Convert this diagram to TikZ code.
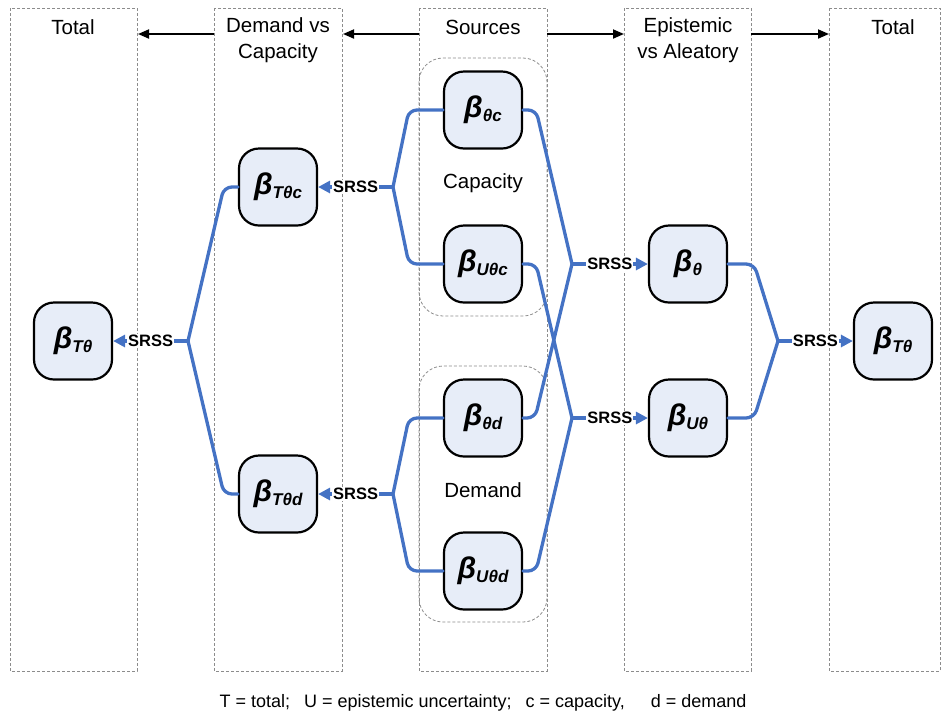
\documentclass[tikz,border=0pt]{standalone}
\usepackage{fontspec}
\setmainfont{Liberation Sans}
\usetikzlibrary{arrows.meta}
\definecolor{lineblue}{HTML}{4472C4}
\definecolor{nodefill}{HTML}{E7EDF8}
\definecolor{dashgray}{HTML}{8C8C8C}
\newcommand{\mybeta}[1]{{\fontsize{30}{30}\selectfont\bfseries\itshape β}\raisebox{-4pt}{\fontsize{17}{17}\selectfont\bfseries\itshape #1}}
\begin{document}
\begin{tikzpicture}[x=1pt,y=-1pt,
 col/.style={draw=dashgray, line width=0.8pt, dash pattern=on 3pt off 2pt},
 grp/.style={draw=dashgray, line width=0.8pt, dash pattern=on 3pt off 2pt, rounded corners=24pt},
 beta/.style={draw=black, line width=2.2pt, fill=nodefill, rounded corners=20pt, minimum width=78pt, minimum height=77pt, inner sep=0pt},
 conn/.style={draw=lineblue, line width=3.3pt, rounded corners=8pt, line cap=round},
 srss/.style={draw=lineblue, line width=3.3pt, -{Triangle[length=12pt,width=12pt]}},
 lbl/.style={fill=white, inner sep=1pt, font=\fontsize{16.5}{16.5}\selectfont\bfseries},
 hdr/.style={font=\fontsize{20.5}{26}\selectfont, align=center},
 flow/.style={draw=black, line width=1.8pt, -{Triangle[length=11pt,width=9pt]}}
]
\useasboundingbox (0,0) rectangle (947,716);
% columns
\draw[col] (10,8) rectangle (137,671);
\draw[col] (214,8) rectangle (342,671);
\draw[col] (419,8) rectangle (547,671);
\draw[col] (624,8) rectangle (751,671);
\draw[col] (829,8) rectangle (940,671);
% column edges for header arrows
\coordinate (c1r) at (138,34);
\coordinate (c2l) at (214,34);
\coordinate (c2r) at (343,34);
\coordinate (c3l) at (419,34);
\coordinate (c3r) at (547,34);
\coordinate (c4l) at (624,34);
\coordinate (c4r) at (751,34);
\coordinate (c5l) at (829,34);
% headers
\node[hdr] (h1) at (73,27) {Total};
\node[hdr] (h2) at (278,40) {Demand vs\\Capacity};
\node[hdr] (h3) at (483,27) {Sources};
\node[hdr] (h4) at (688,40) {Epistemic\\vs Aleatory};
\node[hdr] (h5) at (893,27) {Total};
\draw[flow] (c2l) -- (c1r);
\draw[flow] (c3l) -- (c2r);
\draw[flow] (c3r) -- (c4l);
\draw[flow] (c4r) -- (c5l);
% groups
\draw[grp] (419,58) rectangle (547,316);
\draw[grp] (419,366) rectangle (547,622);
\node[hdr] (capl) at (483,183) {Capacity};
\node[hdr] (deml) at (483,490) {Demand};
% beta nodes
\node[beta] (tl) at (73,341) {\mybeta{Tθ}};
\node[beta] (tc) at (278,187) {\mybeta{Tθc}};
\node[beta] (td) at (278,494) {\mybeta{Tθd}};
\node[beta] (thc) at (483,110) {\mybeta{θc}};
\node[beta] (uc) at (483,264) {\mybeta{Uθc}};
\node[beta] (thd) at (483,418) {\mybeta{θd}};
\node[beta] (ud) at (483,571) {\mybeta{Uθd}};
\node[beta] (th) at (688,264) {\mybeta{θ}};
\node[beta] (u) at (688,418) {\mybeta{Uθ}};
\node[beta] (tr) at (893,341) {\mybeta{Tθ}};
% junctions
\coordinate (jc) at (393,187);
\coordinate (jd) at (393,494);
\coordinate (jl) at (188,341);
\coordinate (j1) at (572,264);
\coordinate (j2) at (572,418);
\coordinate (jr) at (778,341);
% connectors
\draw[conn] (thc.west) -- ++(-34,0) -- (jc);
\draw[conn] (uc.west) -- ++(-34,0) -- (jc);
\draw[conn] (thd.west) -- ++(-34,0) -- (jd);
\draw[conn] (ud.west) -- ++(-34,0) -- (jd);
\draw[conn] (thc.east) -- ++(13,0) -- (j1);
\draw[conn] (thd.east) -- ++(12,0) -- (j1);
\draw[conn] (uc.east) -- ++(13,0) -- (j2);
\draw[conn] (ud.east) -- ++(13,0) -- (j2);
\draw[conn] (tc.west) -- ++(-14,0) -- (jl);
\draw[conn] (td.west) -- ++(-14,0) -- (jl);
\draw[conn] (th.east) -- ++(26,0) -- (jr);
\draw[conn] (u.east) -- ++(26,0) -- (jr);
% SRSS arrows
\draw[srss] (jc) -- node[lbl]{SRSS} (tc.east);
\draw[srss] (jd) -- node[lbl]{SRSS} (td.east);
\draw[srss] (jl) -- node[lbl]{SRSS} (tl.east);
\draw[srss] (j1) -- node[lbl]{SRSS} (th.west);
\draw[srss] (j2) -- node[lbl]{SRSS} (u.west);
\draw[srss] (jr) -- node[lbl]{SRSS} (tr.west);
% footer
\node[font=\fontsize{18}{21}\selectfont] (foot) at (483,703) {T = total;\hspace{14pt}U = epistemic uncertainty;\hspace{14pt}c = capacity,\hspace{26pt}d = demand};
\end{tikzpicture}
\end{document}
